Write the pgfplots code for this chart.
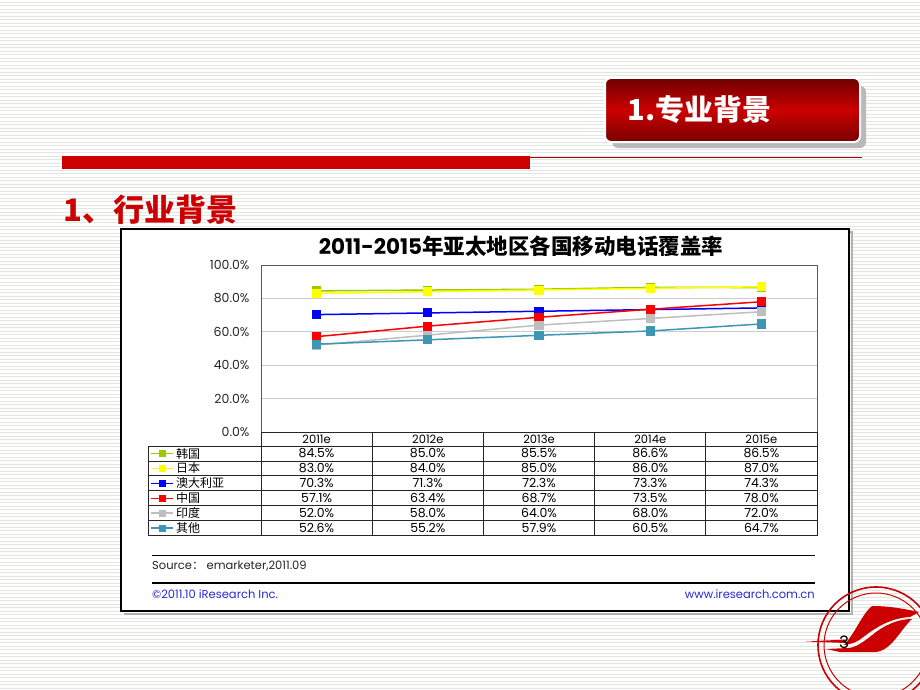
\documentclass[border=0pt]{standalone}
\usepackage{fontspec}
\setmainfont{Poppins}
\newfontfamily\cjk{Noto Sans CJK SC}
\usepackage{pgfplots}
\pgfplotsset{compat=1.18}
\definecolor{kr}{RGB}{153,204,0}
\definecolor{jp}{RGB}{255,255,0}
\definecolor{au}{RGB}{0,0,255}
\definecolor{cn}{RGB}{255,0,0}
\definecolor{ind}{RGB}{190,190,190}
\definecolor{ot}{RGB}{60,150,180}
\definecolor{slidered}{RGB}{204,0,0}
\definecolor{stripe}{RGB}{226,231,226}
\definecolor{footblue}{RGB}{40,40,220}
\begin{document}
\begin{tikzpicture}
\begin{scope}[x=1pt,y=-1pt]
\useasboundingbox (0,0) rectangle (920,690);
\fill[white] (0,0) rectangle (920,690);
\foreach \yy in {2,5.5,...,690} \draw[stripe, line width=0.5pt] (0,\yy) -- (920,\yy);
% header box
\fill[gray!55, rounded corners=6pt] (612,86) rectangle (866,148);
\draw[white, line width=2pt, rounded corners=6pt, top color={rgb,255:red,110;green,0;blue,0}, bottom color={rgb,255:red,120;green,0;blue,0}, middle color=slidered] (605,78) rectangle (860,142);
\node[anchor=west, text=white, font=\cjk\bfseries\fontsize{29}{29}\selectfont] at (624,109) {1.专业背景};
% red bar
\fill[slidered] (62,156) rectangle (530,169);
\draw[slidered!85!black, line width=0.8pt] (530,157) -- (862,157);
\node[anchor=west, text=slidered, font=\cjk\bfseries\fontsize{31}{31}\selectfont, inner sep=0pt] at (63,210) {1、行业背景};
% chart frame
\draw[gray!60, line width=1.5pt] (124,232) -- (852,232) -- (852,614) -- (124,614);
\draw[black, line width=1.2pt, fill=white] (121,229) rectangle (849,611);
\node[font=\bfseries\fontsize{21.5}{21.5}\selectfont] at (521,246) {2011-2015{\cjk\bfseries 年亚太地区各国移动电话覆盖率}};
\end{scope}

\begin{axis}[
  at={(261pt,-432pt)}, anchor=south west,
  scale only axis, width=556pt, height=167pt,
  xmin=-0.5, xmax=4.5, ymin=0, ymax=100,
  xtick=\empty,
  ytick={0,20,40,60,80,100},
  yticklabels={0.0\%,20.0\%,40.0\%,60.0\%,80.0\%,100.0\%},
  yticklabel style={font=\fontsize{12.5}{12.5}\selectfont, text=black!85, xshift=-8pt},
  ymajorgrids, grid style={line width=0.8pt, color=gray!40},
  major tick length=0pt,
  axis line style={line width=0.8pt, color=gray!70!black},
  clip=false,
  every axis plot/.append style={line width=1.5pt, mark=square*, mark size=3.8pt},
]
\addplot[color=kr, mark options={fill=kr}] coordinates {(0,84.5) (1,85.0) (2,85.5) (3,86.6) (4,86.5)};
\addplot[color=jp, mark options={fill=jp}] coordinates {(0,83.0) (1,84.0) (2,85.0) (3,86.0) (4,87.0)};
\addplot[color=au, mark options={fill=au}] coordinates {(0,70.3) (1,71.3) (2,72.3) (3,73.3) (4,74.3)};
\addplot[color=cn, mark options={fill=cn}] coordinates {(0,57.1) (1,63.4) (2,68.7) (3,73.5) (4,78.0)};
\addplot[color=ind, mark options={fill=ind}] coordinates {(0,52.0) (1,58.0) (2,64.0) (3,68.0) (4,72.0)};
\addplot[color=ot, mark options={fill=ot}] coordinates {(0,52.6) (1,55.2) (2,57.9) (3,60.5) (4,64.7)};
\end{axis}

\begin{scope}[x=1pt,y=-1pt]
% table
\def\rh{14.92}
\draw[black!85, line width=0.8pt] (261,432) rectangle (817,446);
\draw[black!85, line width=0.8pt] (148,446) rectangle (817,535.5);
\foreach \k in {1,...,5} \draw[black!85, line width=0.8pt] (148,446+\k*\rh) -- (817,446+\k*\rh);
\foreach \xx in {261,372.2,483.4,594.6,705.8} \draw[black!85, line width=0.8pt] (\xx,432) -- (\xx,535.5);
\foreach \lab [count=\i from 0] in {2011e,2012e,2013e,2014e,2015e}
  \node[font=\fontsize{11.5}{11.5}\selectfont] at (316.6+\i*111.2,439.5) {\lab};
% legend keys & labels
\foreach \c/\lab [count=\r from 0] in {kr/韩国,jp/日本,au/澳大利亚,cn/中国,ind/印度,ot/其他}{
  \draw[\c, line width=1.3pt] (151,446+\r*\rh+\rh/2) -- (173,446+\r*\rh+\rh/2);
  \fill[\c] (158.5,446+\r*\rh+\rh/2-3.5) rectangle (165.5,446+\r*\rh+\rh/2+3.5);
  \node[anchor=west, font=\cjk\fontsize{12}{12}\selectfont, inner sep=0pt] at (176,446+\r*\rh+\rh/2) {\lab};
}
\foreach \row [count=\r from 0] in {{84.5\%,85.0\%,85.5\%,86.6\%,86.5\%},{83.0\%,84.0\%,85.0\%,86.0\%,87.0\%},{70.3\%,71.3\%,72.3\%,73.3\%,74.3\%},{57.1\%,63.4\%,68.7\%,73.5\%,78.0\%},{52.0\%,58.0\%,64.0\%,68.0\%,72.0\%},{52.6\%,55.2\%,57.9\%,60.5\%,64.7\%}}{
  \foreach \v [count=\i from 0] in \row
    \node[font=\fontsize{12.5}{12.5}\selectfont] at (316.6+\i*111.2,446+\r*\rh+\rh/2) {\v};
}
% source
\draw[black, line width=0.8pt] (152,555) -- (815,555);
\node[anchor=west, inner sep=0pt, font=\fontsize{11.5}{11.5}\selectfont, text=black!85] at (152,566) {Source{\cjk ：}\ emarketer,2011.09};
\draw[black, line width=1.2pt] (152,583) -- (815,583);
\node[anchor=west, inner sep=0pt, font=\fontsize{11.5}{11.5}\selectfont, text=footblue] at (152,594) {\textcopyright2011.10 iResearch Inc.};
\node[anchor=east, inner sep=0pt, font=\fontsize{11.5}{11.5}\selectfont, text=footblue] at (815,594) {www.iresearch.com.cn};
\end{scope}
% logo, clipped to the page
\begin{scope}[x=1pt,y=-1pt]
\clip (0,0) rectangle (920,690);
\draw[slidered, line width=1.6pt] (876,645) circle (58);
\draw[slidered, line width=1pt] (876,645) circle (52);
\fill[slidered] (872,606) .. controls (890,606) and (905,609) .. (919,612) -- (910,617) .. controls (890,618) and (875,628) .. (862,638) .. controls (857,642) and (852,644) .. (844,645) .. controls (856,632) and (862,614) .. (872,606) -- cycle;
\fill[slidered] (826,649) -- (848,648) .. controls (856,648) and (866,640) .. (876,632) .. controls (890,622) and (902,619) .. (912,619) .. controls (900,630) and (892,650) .. (876,652) -- (840,652) -- cycle;
\fill[slidered] (806,641.5) -- (846,639.5) -- (846,643) -- cycle;
\node[font=\fontsize{17}{17}\selectfont] at (844,642) {3};
\end{scope}
\end{tikzpicture}
\end{document}
